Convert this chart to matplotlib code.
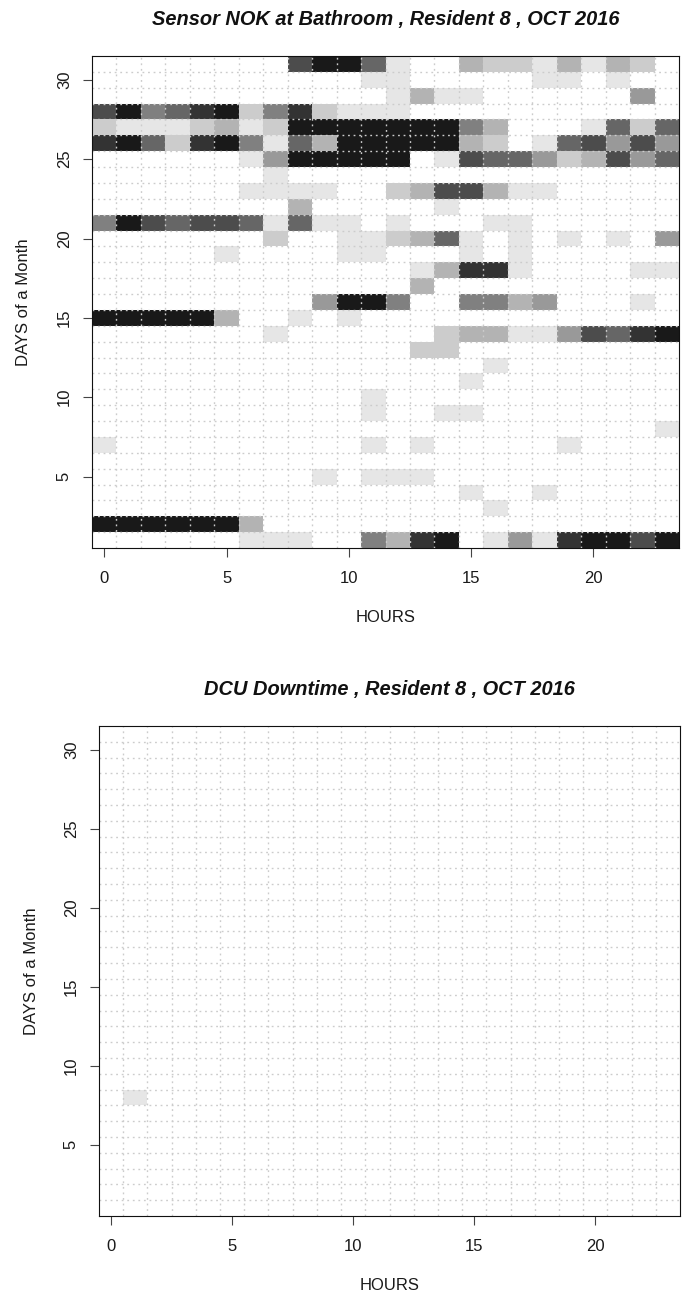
import numpy as np
import matplotlib

matplotlib.use("Agg")
import matplotlib.pyplot as plt
from matplotlib.colors import ListedColormap, BoundaryNorm

plt.rcParams["font.family"] = ["Liberation Sans", "DejaVu Sans"]

hours = list(range(24))
days = list(range(1, 32))
month_label = "OCT 2016"
resident = 8

# Bathroom sensor NOK shade level per hour (0 = none, 9 = darkest).
# One string per day, listed from day 31 down to day 1.
bathroom_nok_rows = [
    "000000007996100322131320",  # 31
    "000000000001100000110100",  # 30
    "000000000000131100000040",  # 29
    "795689258211100000000000",  # 28
    "211123129999999530001626",  # 27
    "896289516399999320167474",  # 26
    "000000149999901766423746",  # 25
    "000000010000000000000000",  # 24
    "000000111100237731100000",  # 23
    "000000003000001000000000",  # 22
    "597677616110100011000000",  # 21
    "000000020011236101010104",  # 20
    "000001000011000101000000",  # 19
    "000000000000013881000011",  # 18
    "000000000000030000000000",  # 17
    "000000000499500553400010",  # 16
    "999993001010000000000000",  # 15
    "000000010000002331147689",  # 14
    "000000000000022000000000",  # 13
    "000000000000000010000000",  # 12
    "000000000000000100000000",  # 11
    "000000000001000000000000",  # 10
    "000000000001001100000000",  # 9
    "000000000000000000000001",  # 8
    "100000000001010000010000",  # 7
    "000000000000000000000000",  # 6
    "000000000101110000000000",  # 5
    "000000000000000100100000",  # 4
    "000000000000000010000000",  # 3
    "999999300000000000000000",  # 2
    "000000111005389014189979",  # 1
]

# DCU downtime entries: (day, hour, shade level)
dcu_down_days = [8]
dcu_down_hours = [1]
dcu_down_levels = [1]


def build_matrix_from_rows(rows):
    mat = np.array([[int(c) for c in r] for r in rows], dtype=float)
    return mat[::-1]  # row 0 -> day 1


def build_matrix_from_events(ev_days, ev_hours, ev_levels):
    mat = np.zeros((len(days), len(hours)))
    for d, h, v in zip(ev_days, ev_hours, ev_levels):
        mat[d - 1, h] = v
    return mat


grays = [(1.0 - 0.1 * i,) * 3 for i in range(10)]
cmap = ListedColormap(grays)
norm = BoundaryNorm(np.arange(-0.5, 10.5, 1.0), cmap.N)

FIG_W, FIG_H = 682, 1296


def draw_panel(ax, mat, title):
    x_edges = np.arange(-0.5, 24.0, 1.0)
    y_edges = np.arange(0.5, 32.0, 1.0)
    ax.pcolormesh(x_edges, y_edges, mat, cmap=cmap, norm=norm, zorder=1)

    # dotted grid on the cell borders
    ax.vlines(np.arange(0.5, 23.0, 1.0), 0.5, 31.5, colors="#cccccc",
              linestyles=(0, (1.3, 2.7)), linewidth=1.0, zorder=2)
    ax.hlines(np.arange(1.5, 31.0, 1.0), -0.5, 23.5, colors="#cccccc",
              linestyles=(0, (1.3, 2.7)), linewidth=1.0, zorder=2)

    ax.set_xlim(-0.5, 23.5)
    ax.set_ylim(0.5, 31.5)
    ax.set_xticks([0, 5, 10, 15, 20])
    ax.set_yticks([5, 10, 15, 20, 25, 30])
    ax.tick_params(axis="both", direction="out", length=6.5, width=0.8,
                   color="#444444", labelsize=12, labelcolor="#1a1a1a")
    ax.tick_params(axis="x", pad=10)
    ax.tick_params(axis="y", pad=8)
    for lab in ax.get_yticklabels():
        lab.set_rotation(90)
        lab.set_va("center")
    for sp in ax.spines.values():
        sp.set_linewidth(0.8)
        sp.set_color("#111111")
        sp.set_zorder(3)

    bbox = ax.get_position()
    h_px = bbox.height * FIG_H
    w_px = bbox.width * FIG_W
    ax.text(0.5, 1 + 31 / h_px, title, transform=ax.transAxes, ha="center",
            va="baseline", fontsize=14.4, fontweight="bold", fontstyle="italic",
            color="#111111")
    ax.text(0.5, -70 / h_px, "HOURS", transform=ax.transAxes, ha="center",
            va="center", fontsize=12, color="#1a1a1a")
    ax.text(-68 / w_px, 0.5, "DAYS of a Month", transform=ax.transAxes,
            ha="center", va="center", rotation=90, fontsize=12, color="#1a1a1a")


fig = plt.figure(figsize=(FIG_W / 100, FIG_H / 100), dpi=100)

ax_top = fig.add_axes([92 / FIG_W, 1 - 548 / FIG_H, 587 / FIG_W, 492 / FIG_H])
draw_panel(ax_top, build_matrix_from_rows(bathroom_nok_rows),
           f"Sensor NOK at Bathroom , Resident {resident} , {month_label}")

ax_bot = fig.add_axes([99 / FIG_W, 1 - 1216 / FIG_H, 581 / FIG_W, 490 / FIG_H])
draw_panel(ax_bot, build_matrix_from_events(dcu_down_days, dcu_down_hours, dcu_down_levels),
           f"DCU Downtime , Resident {resident} , {month_label}")

fig.savefig("out.png", dpi=100)
